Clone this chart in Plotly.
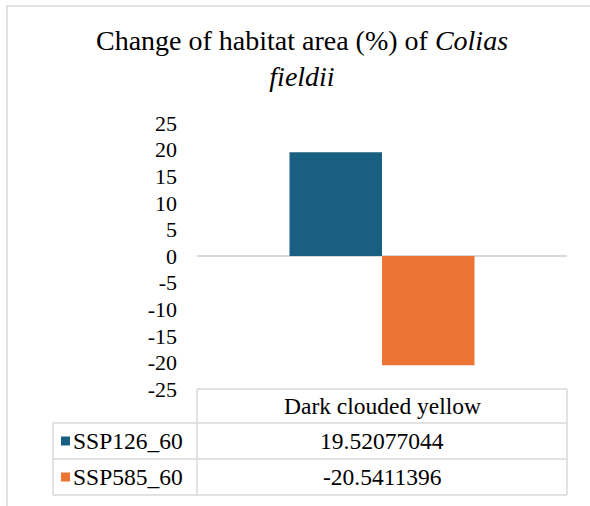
import plotly.graph_objects as go

categories = ["Dark clouded yellow"]
series_names = ["SSP126_60", "SSP585_60"]
ssp126_60 = [19.52077044]
ssp585_60 = [-20.5411396]
colors = ["#185f82", "#ec7434"]
y_ticks = [-25, -20, -15, -10, -5, 0, 5, 10, 15, 20, 25]

W, H = 590, 506
L, T = 197, 123
PW, PH = 370, 266
R, B = W - L - PW, H - T - PH
GRID = "#d9d9d9"
FONT = "Liberation Serif"


def px(x):
    return (x - L) / PW


def py(y):
    return (H - B - y) / PH


def line(x0, y0, x1, y1):
    return dict(type="line", xref="paper", yref="paper",
                x0=px(x0), y0=py(y0), x1=px(x1), y1=py(y1),
                line=dict(color=GRID, width=1.5), layer="above")


def label(text, x, y, anchor="center", size=23.5):
    return dict(text=text, x=px(x), y=py(y), xref="paper", yref="paper",
                xanchor=anchor, yanchor="middle", showarrow=False,
                font=dict(size=size, color="#000", family=FONT))


fig = go.Figure()
for name, vals, c in zip(series_names, [ssp126_60, ssp585_60], colors):
    fig.add_trace(go.Bar(x=categories, y=vals, name=name, marker_color=c,
                         marker_line_width=0, showlegend=False))

shapes = [
    # chart frame
    dict(type="rect", xref="paper", yref="paper", x0=px(7), y0=py(6), x1=px(640), y1=py(560),
         line=dict(color=GRID, width=1.5), fillcolor="rgba(0,0,0,0)", layer="below"),
    # data table
    line(197, 389, 567, 389),
    line(53, 423, 567, 423),
    line(53, 459, 567, 459),
    line(53, 495, 567, 495),
    line(53, 423, 53, 495),
    line(197, 389, 197, 495),
    line(567, 389, 567, 495),
]
annotations = [label(categories[0], 382, 406)]
row_y = [441, 477]
for name, vals, c, ry in zip(series_names, [ssp126_60, ssp585_60], colors, row_y):
    shapes.append(dict(type="rect", xref="paper", yref="paper",
                       x0=px(61), x1=px(70), y0=py(ry - 4.5), y1=py(ry + 4.5),
                       fillcolor=c, line_width=0))
    annotations.append(label(name, 71, ry, "left"))
    annotations.append(label(f"{vals[0]:.10g}", 382, ry))

fig.update_layout(
    width=W, height=H,
    margin=dict(l=L, r=R, t=T, b=B),
    paper_bgcolor="white", plot_bgcolor="white",
    barmode="group", bargap=0.5, bargroupgap=0,
    title=dict(text="Change of habitat area (%) of <i>Colias</i><br><i>fieldii</i>",
               x=302 / W, xanchor="center", xref="container",
               y=1 - 50 / H, yanchor="top",
               font=dict(size=28, color="#000", family=FONT)),
    font=dict(family=FONT, color="#000"),
    shapes=shapes, annotations=annotations,
)
fig.update_xaxes(showticklabels=False, showgrid=False, showline=False, zeroline=False)
fig.update_yaxes(range=[-25, 25], tickvals=y_ticks, ticktext=[str(v) for v in y_ticks],
                 showgrid=False, showline=False,
                 zeroline=True, zerolinecolor=GRID, zerolinewidth=1.5,
                 ticks="", ticklabelstandoff=19, tickfont=dict(size=22, color="#000", family=FONT))

fig.write_html("out.html", config={"displayModeBar": False},
               post_script="document.body.style.margin='0';")
